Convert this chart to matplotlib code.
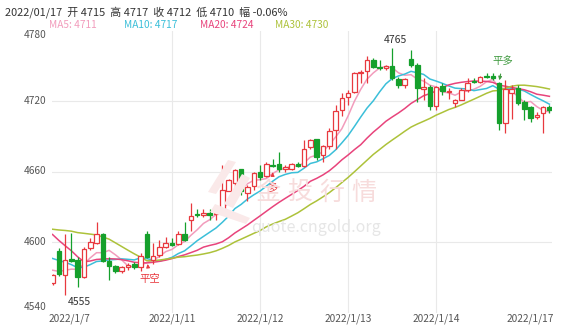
import matplotlib
matplotlib.use("Agg")
import matplotlib.pyplot as plt
import numpy as np
import pandas as pd
from matplotlib.patches import Polygon

plt.rcParams['font.family'] = ['Noto Sans CJK SC', 'DejaVu Sans']

# ---------------- data ----------------
opens = [4565, 4592, 4571.5, 4585.5, 4584.5, 4570, 4594.5, 4599, 4606.5, 4584,
         4579.5, 4575.5, 4579, 4581.5, 4579, 4606.5, 4584.5, 4589, 4596, 4599.5,
         4598, 4607, 4618.5, 4623.5, 4623, 4625, 4623.5, 4625, 4643.5, 4650,
         4662, 4642, 4647.5, 4659.5, 4656, 4665.5, 4666.5, 4662, 4662.5, 4666,
         4664.5, 4681, 4687.5, 4674, 4681.5, 4695, 4712, 4723.5, 4728, 4743.5,
         4745.5, 4755, 4748.5, 4748, 4750, 4738.5, 4733.5, 4755.5, 4750.5, 4730.5,
         4731.5, 4715.5, 4732.5, 4727.5, 4718.5, 4721, 4729.5, 4736.5, 4736.5, 4741,
         4741.5, 4735, 4701, 4727, 4731, 4719.5, 4714.5, 4706, 4710, 4715]
highs = [4573, 4595, 4607, 4608, 4587.5, 4596, 4603, 4617, 4607.5, 4587,
         4580.5, 4580, 4582.5, 4583, 4590.5, 4609, 4599, 4601.5, 4604.5, 4603,
         4609, 4617, 4633, 4628.5, 4628.5, 4628.5, 4627, 4665.5, 4653.5, 4662.5,
         4662.5, 4648.5, 4660, 4665.5, 4668.5, 4670.5, 4677, 4665.5, 4667, 4668.5,
         4687, 4688, 4688, 4682.5, 4697, 4716.5, 4726.5, 4729.5, 4745, 4746.5,
         4758.5, 4756.5, 4755, 4750.5, 4765, 4740.5, 4739.5, 4763.5, 4752, 4739.5,
         4733.5, 4733, 4735, 4731, 4722, 4731, 4739.5, 4739.5, 4741.5, 4743.5,
         4743.5, 4736.5, 4738, 4734, 4733.5, 4721, 4716, 4710.5, 4715.5, 4717]
lows = [4563, 4571, 4555, 4583, 4561.5, 4569, 4593, 4598, 4583, 4568,
        4573.5, 4574, 4576, 4577, 4575, 4586, 4581, 4587.5, 4594.5, 4596.5,
        4597.5, 4601, 4609, 4621.5, 4621.5, 4618.5, 4618.5, 4624.5, 4643, 4641.5,
        4640, 4634.5, 4644, 4652.5, 4655.5, 4664, 4660, 4660, 4661, 4664,
        4664, 4679.5, 4670, 4668.5, 4679.5, 4679.5, 4707, 4716.5, 4726.5, 4735,
        4735, 4748, 4746.5, 4746.5, 4738, 4731, 4731, 4749, 4719.5, 4721,
        4712.5, 4712.5, 4725, 4722, 4715, 4720.5, 4728, 4735, 4735.5, 4739.5,
        4738, 4695, 4693, 4705, 4716.5, 4704, 4702.5, 4705, 4693, 4710]
closes = [4572, 4573, 4584.5, 4584, 4570, 4594, 4600, 4606.5, 4584, 4580,
          4575, 4578.5, 4580.5, 4579, 4588, 4587, 4588.5, 4596, 4599.5, 4597.5,
          4607, 4602, 4622.5, 4623, 4624.5, 4623, 4624.5, 4644, 4652.5, 4661.5,
          4643, 4647, 4658.5, 4655, 4666.5, 4664.5, 4662.5, 4664, 4666.5, 4665,
          4679, 4687, 4672, 4681.5, 4694.5, 4711.5, 4722.5, 4727, 4743.5, 4745,
          4755, 4749, 4748, 4750, 4739.5, 4733.5, 4738.5, 4750.5, 4731, 4731.5,
          4715.5, 4731.5, 4728.5, 4728, 4721, 4729.5, 4735.5, 4736, 4740.5, 4740.5,
          4739.5, 4701, 4730, 4730.5, 4718.5, 4713.5, 4705.5, 4708, 4714.5, 4712]
# closes before the visible window (estimated so the MA lines start where the picture shows)
prev_closes = [4592, 4597, 4602, 4607, 4612, 4620, 4628, 4636, 4636,
               4668, 4673, 4675, 4671, 4673, 4678,
               4587, 4580, 4577, 4574, 4580,
               4590, 4600, 4604, 4596, 4590,
               4578, 4580, 4579, 4571]

ma_periods = [5, 10, 20, 30]
ma_colors = ['#f29cbc', '#3bbfd9', '#e8447c', '#adc23a']

day_labels = ['2022/1/7', '2022/1/11', '2022/1/12', '2022/1/13', '2022/1/14', '2022/1/17']
day_label_idx = [0, 19, 33, 47, 61, 79]
day_grid_idx = [19, 33, 47, 61]
y_ticks = [4540, 4600, 4660, 4720, 4780]

signal_idx = [15, 35, 71]
signal_text = ['平空', '多', '平多']
signal_side = ['below', 'below', 'above']
signal_color = ['#e8393f', '#e8393f', '#3f9a3f']

title_text = '2022/01/17  开 4715  高 4717  收 4712  低 4710  幅 -0.06%'
watermark_chars = ['金', '投', '行', '情']
watermark_url = 'quote.cngold.org'

RED = '#e8393f'
GREEN = '#15a02c'

# ---------------- figure ----------------
W, H = 562, 326
fig = plt.figure(figsize=(W / 100, H / 100), dpi=100)
ax = fig.add_axes([52 / W, (H - 312.5) / H, 500 / W, 282 / H])
ax.set_xlim(-0.08, 79.41)
ax.set_ylim(4540, 4780)
for s in ax.spines.values():
    s.set_visible(False)
ax.set_xticks([])
ax.set_yticks([])

n = len(closes)
x = np.arange(n)
o = np.array(opens); c = np.array(closes); h = np.array(highs); l = np.array(lows)

# grid
for v in y_ticks[1:-1]:
    ax.axhline(v, color='#e9e9e9', lw=0.8, zorder=0)
for gi in day_grid_idx:
    ax.axvline(gi, color='#e9e9e9', lw=0.8, zorder=0)

# watermark (figure pixel coordinates)
def px(xp, yp):
    return (xp / W, 1 - yp / H)

logo_bands = [
    [(208, 192), (228, 160), (236, 162), (216, 194)],
    [(224, 204), (242, 174), (250, 178), (233, 208)],
    [(210, 212), (215, 204), (250, 218), (246, 224)],
]
for band in logo_bands:
    fig.patches.append(Polygon([px(a, b) for a, b in band], closed=True,
                               transform=fig.transFigure, facecolor='#fae9e9',
                               edgecolor='none', zorder=0.5))
for k, ch in enumerate(watermark_chars):
    xp, yp = px(268 + 32 * k, 193)
    fig.text(xp, yp, ch, fontsize=18, color='#f7dcdc', ha='center', va='center', zorder=0.5)
xp, yp = px(316, 227)
fig.text(xp, yp, watermark_url, fontsize=11.5, color='#e6e6e6', ha='center', va='center', zorder=0.5)

# moving averages
all_c = pd.Series(prev_closes + closes)
for p, col in zip(ma_periods, ma_colors):
    ma = all_c.rolling(p).mean().values[len(prev_closes):]
    ax.plot(x, ma, color=col, lw=1.1, zorder=2)

# candles
up = c >= o
colors = np.where(up, RED, GREEN)
ax.vlines(x, l, h, colors=colors, lw=0.9, zorder=3)
bottoms = np.minimum(o, c)
heights = np.maximum(np.abs(c - o), 0.6)
ax.bar(x[up], heights[up], bottom=bottoms[up], width=0.72, facecolor='white',
       edgecolor=RED, linewidth=0.9, zorder=4)
ax.bar(x[~up], heights[~up], bottom=bottoms[~up], width=0.72, facecolor=GREEN,
       edgecolor=GREEN, linewidth=0.9, zorder=4)

# max / min labels
imax = int(np.argmax(h)); imin = int(np.argmin(l))
ax.annotate(f'{h[imax]:.0f}', (imax, h[imax]), xytext=(2, 2), textcoords='offset points',
            ha='center', va='bottom', fontsize=7.5, color='#333333', zorder=6)
ax.annotate(f'{l[imin]:.0f}', (imin, l[imin]), xytext=(10, -1.5), textcoords='offset points',
            ha='center', va='top', fontsize=7.5, color='#333333', zorder=6)

# trade signals
for si, st, side, sc in zip(signal_idx, signal_text, signal_side, signal_color):
    if side == 'below':
        ax.annotate(st, xy=(si, l[si]), xytext=(2 if len(st) > 1 else 0, -15),
                    textcoords='offset points',
                    ha='center', va='center', fontsize=7.5, color=sc, zorder=6,
                    arrowprops=dict(arrowstyle='-|>', color=sc, lw=0.8, mutation_scale=5,
                                    shrinkA=4, shrinkB=4))
    else:
        ax.annotate(st, xy=(si, h[si]), xytext=(3, 15), textcoords='offset points',
                    ha='center', va='center', fontsize=7.5, color=sc, zorder=6,
                    arrowprops=dict(arrowstyle='-|>', color=sc, lw=0.8, mutation_scale=5,
                                    shrinkA=4, shrinkB=1))

# y labels
yt = ax.get_yaxis_transform()
for v in y_ticks:
    dy = 0
    if v == y_ticks[-1]:
        dy = -3.2
    elif v == y_ticks[0]:
        dy = 4
    ax.annotate(str(v), (0, v), xycoords=yt, xytext=(-4, dy), textcoords='offset points',
                ha='right', va='center', fontsize=7.3, color='#555555')

# x labels
xt = ax.get_xaxis_transform()
for lab, li in zip(day_labels, day_label_idx):
    ha = 'center'
    dx = 0
    if li == day_label_idx[0]:
        ha = 'left'; dx = -3
    elif li == day_label_idx[-1]:
        ha = 'right'; dx = 3
    ax.annotate(lab, (li, 0), xycoords=xt, xytext=(dx, -4.3), textcoords='offset points',
                ha=ha, va='center', fontsize=7.3, color='#555555')

# header
fig.text(5 / W, 1 - 12 / H, title_text, fontsize=7.9, color='#333333', ha='left', va='center')
last_ma = {p: all_c.rolling(p).mean().values[-1] for p in ma_periods}
for p, col, xp in zip(ma_periods, ma_colors, [49, 124, 200, 275]):
    fig.text(xp / W, 1 - 24.5 / H, f'MA{p}: {last_ma[p]:.0f}', fontsize=7.3, color=col,
             ha='left', va='center')

fig.savefig('out.png', dpi=100)
